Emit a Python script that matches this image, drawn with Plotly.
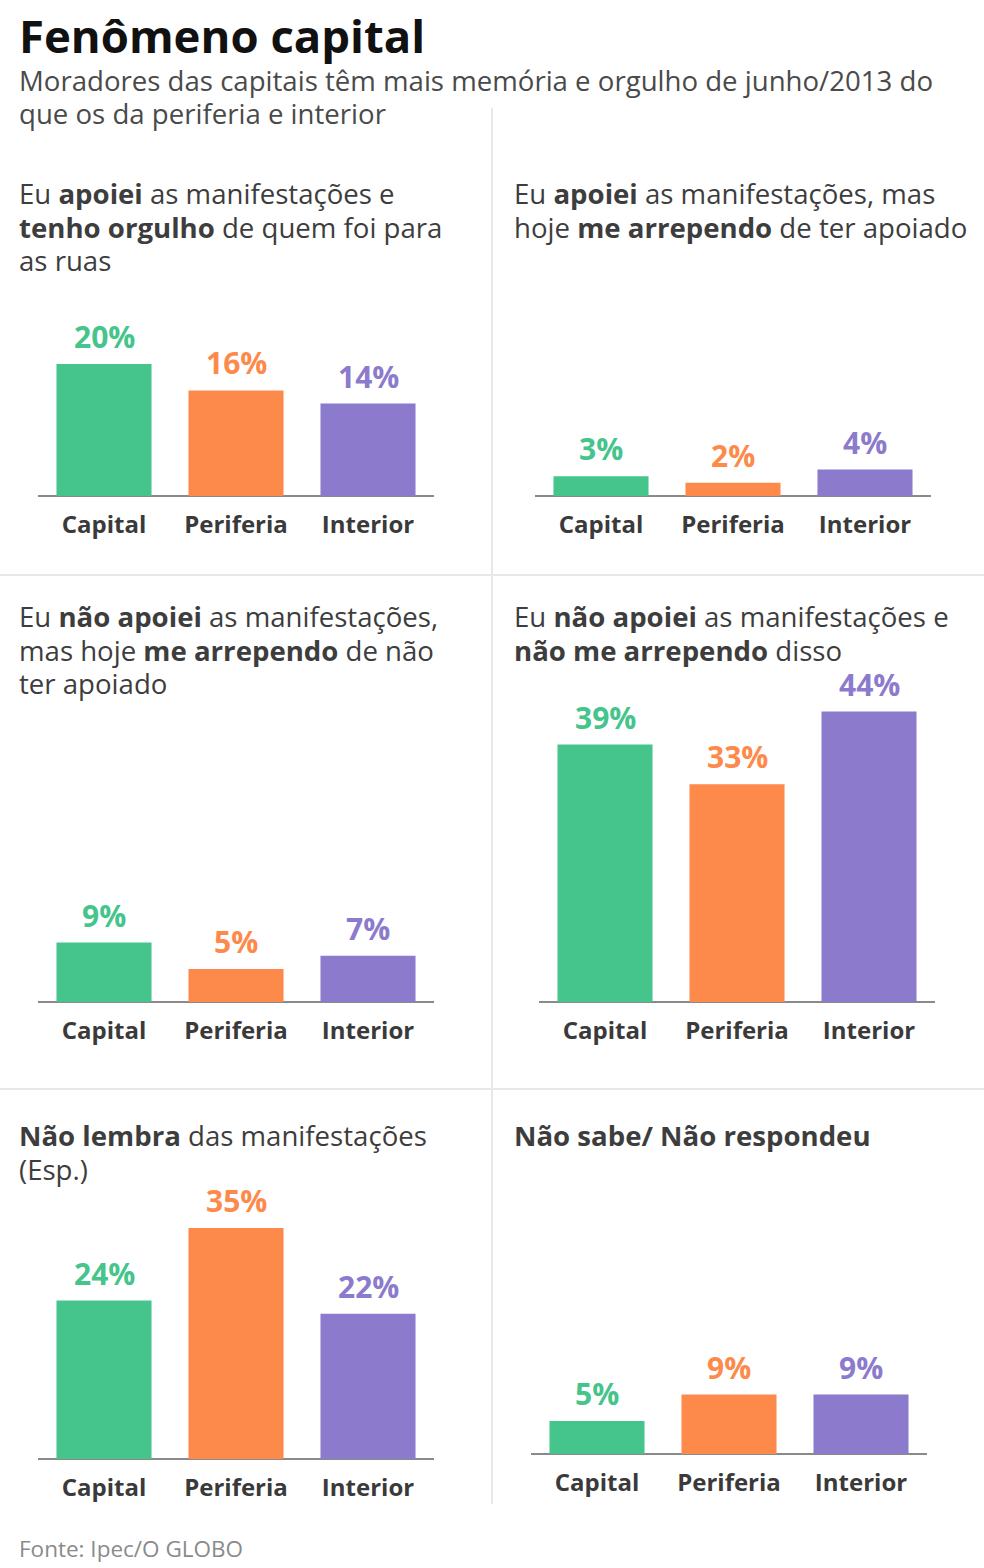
import plotly.graph_objects as go

W, H = 984, 1568

categories = ["Capital", "Periferia", "Interior"]
colors = ["#45c48b", "#fd8a4b", "#8c7bcc"]

titles = [
    ["Eu <b>apoiei</b> as manifestações e", "<b>tenho orgulho</b> de quem foi para", "as ruas"],
    ["Eu <b>apoiei</b> as manifestações, mas", "hoje <b>me arrependo</b> de ter apoiado"],
    ["Eu <b>não apoiei</b> as manifestações,", "mas hoje <b>me arrependo</b> de não", "ter apoiado"],
    ["Eu <b>não apoiei</b> as manifestações e", "<b>não me arrependo</b> disso"],
    ["<b>Não lembra</b> das manifestações", "(Esp.)"],
    ["<b>Não sabe/ Não respondeu</b>"],
]
values = [
    [20, 16, 14],
    [3, 2, 4],
    [9, 5, 7],
    [39, 33, 44],
    [24, 35, 22],
    [5, 9, 9],
]
main_title = "Fenômeno capital"
subtitle = ["Moradores das capitais têm mais memória e orgulho de junho/2013 do",
            "que os da periferia e interior"]
source = "Fonte: Ipec/O GLOBO"

# layout (pixels)
axis_x = [(38, 434), (535, 931), (38, 434), (539, 935), (38, 434), (531, 927)]
baseline_y = [496, 496, 1002, 1002, 1459, 1454]
title_pos = [(17, 193), (512, 193), (17, 616), (512, 616), (17, 1135), (512, 1135)]
LINE_H = 33.5
PX_PER_PCT = 6.6
YMAX = 50

def fx(px):
    return px / W

def fy(py):
    return 1 - py / H

FONT = "Open Sans"
fig = go.Figure()
annotations = []

def text_line(x, y, text, size, color):
    annotations.append(dict(
        x=fx(x), y=fy(y), xref="paper", yref="paper", text=text,
        showarrow=False, xanchor="left", yanchor="middle", align="left",
        font=dict(family=FONT, size=size, color=color),
    ))

for i in range(6):
    ax = "" if i == 0 else str(i + 1)
    x0, x1 = axis_x[i]
    yb = baseline_y[i]
    ytop = yb - YMAX * PX_PER_PCT
    fig.add_trace(go.Bar(
        x=categories, y=values[i], marker=dict(color=colors, line=dict(width=0)),
        xaxis="x" + ax, yaxis="y" + ax, showlegend=False, hoverinfo="skip",
    ))
    fig.layout["xaxis" + ax] = dict(
        domain=[fx(x0), fx(x1)], anchor="y" + ax, showgrid=False, zeroline=False,
        showline=False, ticks="", ticklabelstandoff=12,
        tickfont=dict(family=FONT, size=24, color="#3a3a3a", weight="bold"),
        fixedrange=True,
    )
    fig.layout["yaxis" + ax] = dict(
        domain=[fy(yb), fy(ytop)], anchor="x" + ax, range=[0, YMAX],
        showgrid=False, zeroline=True, zerolinecolor="#8a8a8a", zerolinewidth=1.5,
        showticklabels=False, showline=False, fixedrange=True,
    )
    for c, v, col in zip(categories, values[i], colors):
        annotations.append(dict(
            x=c, y=v, xref="x" + ax, yref="y" + ax, text="<b>%d%%</b>" % v,
            showarrow=False, yanchor="bottom", yshift=5,
            font=dict(family=FONT, size=30, color=col),
        ))
    tx, ty = title_pos[i]
    for k, line in enumerate(titles[i]):
        text_line(tx, ty + k * LINE_H, line, 27.6, "#3d3d3d")

text_line(17, 35, "<b>%s</b>" % main_title, 45.5, "#111111")
for k, line in enumerate(subtitle):
    text_line(17, 80 + k * LINE_H, line, 27.6, "#4a4a4a")
text_line(17, 1548, source, 22.5, "#8a8a8a")

shapes = [
    dict(type="line", xref="paper", yref="paper", x0=fx(492), x1=fx(492), y0=fy(108), y1=fy(1504),
         line=dict(color="#e6e8ea", width=2)),
    dict(type="line", xref="paper", yref="paper", x0=0, x1=1, y0=fy(575), y1=fy(575),
         line=dict(color="#e6e8ea", width=2)),
    dict(type="line", xref="paper", yref="paper", x0=0, x1=1, y0=fy(1089), y1=fy(1089),
         line=dict(color="#e6e8ea", width=2)),
]

fig.update_layout(
    width=W, height=H, margin=dict(l=0, r=0, t=0, b=0),
    paper_bgcolor="white", plot_bgcolor="rgba(0,0,0,0)",
    bargap=0.28, annotations=annotations, shapes=shapes,
    font=dict(family=FONT),
)

fig.write_html("out.html", config={"displayModeBar": False},
               post_script="document.body.style.margin='0';document.body.style.overflow='hidden';")
